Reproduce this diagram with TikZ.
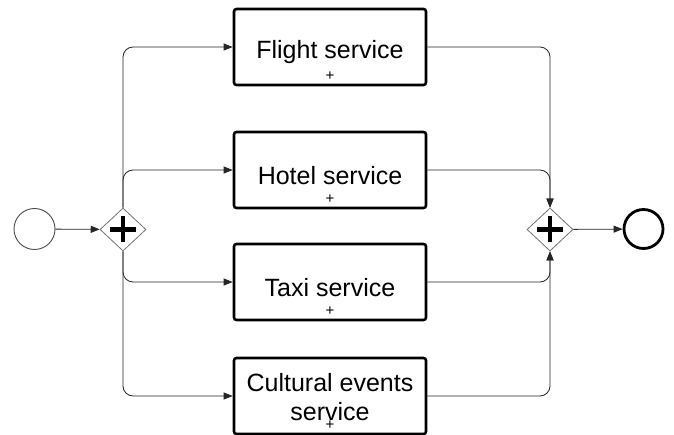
\documentclass[tikz,border=0pt]{standalone}
\usepackage{fontspec}
\setmainfont{Liberation Sans}
\usetikzlibrary{shapes.geometric,arrows.meta}
\begin{document}
\begin{tikzpicture}[x=1pt,y=-1pt,
  task/.style={draw=black,line width=2.6pt,rounded corners=2.5pt,minimum width=192pt,minimum height=76pt,inner sep=0pt},
  txt/.style={font=\fontsize{25}{29}\selectfont,align=center,inner sep=0pt},
  plusmark/.style={font=\fontsize{15}{15}\selectfont,inner sep=0pt},
  gate/.style={diamond,draw=black!55,line width=0.8pt,minimum width=46pt,minimum height=43pt,inner sep=0pt,fill=white},
  flow/.style={draw=black!85,line width=0.8pt,rounded corners=10pt,-{Triangle[length=9pt,width=7pt]}},
  plusbar/.style={line width=4.5pt,black}
]
\useasboundingbox (0,0) rectangle (674,435);
% events
\node[circle,draw=black!70,line width=0.9pt,minimum size=41pt,inner sep=0pt] (start) at (34.5,229) {};
\node[circle,draw=black,line width=2.8pt,minimum size=39pt,inner sep=0pt] (end) at (643.5,229) {};
% gateways
\node[gate] (g1) at (123,229.5) {};
\node[gate] (g2) at (550,229.5) {};
\foreach \g in {g1,g2}{
  \draw[plusbar] ([xshift=-13pt]\g.center) -- ([xshift=13pt]\g.center);
  \draw[plusbar] ([yshift=-13pt]\g.center) -- ([yshift=13pt]\g.center);
}
% tasks
\node[task] (flight) at (330,47) {};
\node[task] (hotel) at (330,170) {};
\node[task] (taxi) at (330,282) {};
\node[task] (cult) at (330,396) {};
\node[txt] (flightt) at ([yshift=-5pt]flight.center) {Flight service};
\node[txt] (hotelt) at ([yshift=-6pt]hotel.center) {Hotel service};
\node[txt] (taxit) at ([yshift=-6pt]taxi.center) {Taxi service};
\node[txt] (cultt) at ([yshift=-1pt]cult.center) {Cultural events\\service};
\foreach \t in {flight,hotel,taxi,cult}{
  \node[plusmark] (\t m) at ([yshift=10pt]\t.south) {+};
}
% flows
\draw[flow] (start) -- (g1);
\draw[flow] (g2) -- (end);
\draw[flow] (g1.north) |- (flight.west);
\draw[flow] (g1.north) |- (hotel.west);
\draw[flow] (g1.south) |- (taxi.west);
\draw[flow] (g1.south) |- (cult.west);
\draw[flow] (flight.east) -| (g2.north);
\draw[flow] (hotel.east) -| (g2.north);
\draw[flow] (taxi.east) -| (g2.south);
\draw[flow] (cult.east) -| (g2.south);
\end{tikzpicture}
\end{document}
